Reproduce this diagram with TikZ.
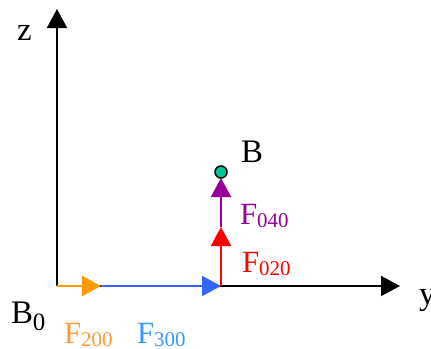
\documentclass[tikz,border=0pt]{standalone}
\usepackage{fontspec}
\setmainfont{Liberation Serif}
\usetikzlibrary{arrows.meta}
\definecolor{aorange}{HTML}{FF9900}
\definecolor{torange}{HTML}{FF9933}
\definecolor{ablue}{HTML}{3366FF}
\definecolor{tblue}{HTML}{3399FF}
\definecolor{apurple}{HTML}{990099}
\definecolor{ared}{HTML}{FF0000}
\definecolor{dotgreen}{HTML}{00C896}
\newcommand{\bigtxt}{\fontsize{33}{38}\selectfont}
\newcommand{\Flab}[1]{{\fontsize{31}{36}\selectfont F}\raisebox{-3.5bp}[0pt][0pt]{\fontsize{21}{24}\selectfont #1}}
\begin{document}
\begin{tikzpicture}[x=1bp,y=-1bp,
  axis/.style={line width=1.8bp,-{Triangle[length=19bp,width=20bp]}},
  vec/.style={line width=2bp,-{Triangle[length=19bp,width=20bp]}},
  lab/.style={anchor=base west,inner sep=0pt,outer sep=0pt}]
\useasboundingbox (0,0) rectangle (431,349);
\coordinate (O) at (57,286);
\coordinate (Ztip) at (57,9);
\coordinate (Ytip) at (400,286);
\coordinate (P1) at (101,286);
\coordinate (P2) at (221,286);
\coordinate (P3) at (221,227);
\coordinate (P4) at (221,178);
\draw[axis] (O) -- (Ztip);
\draw[axis] (O) -- (Ytip);
\draw[vec,aorange] (O) -- (P1);
\draw[vec,ablue] (P1) -- (P2);
\draw[vec,ared] (P2) -- (P3);
\draw[vec,apurple] (P3) -- (P4);
\node[circle,draw=black,line width=1.5bp,fill=dotgreen,minimum size=12bp,inner sep=0pt] (Bdot) at (221,172) {};
\node[lab] (zl) at (17,40) {\bigtxt z};
\node[lab] (yl) at (419,304) {\bigtxt y};
\node[lab] (Bl) at (241,162) {\bigtxt B};
\node[lab] (B0l) at (11,323) {\bigtxt B\raisebox{-7bp}[0pt][0pt]{\fontsize{25}{28}\selectfont 0}};
\node[lab,text=apurple] (F040) at (240,224) {\Flab{040}};
\node[lab,text=ared] (F020) at (242,272) {\Flab{020}};
\node[lab,text=torange] (F200) at (64,343) {\Flab{200}};
\node[lab,text=tblue] (F300) at (137,343) {\Flab{300}};
\end{tikzpicture}
\end{document}
